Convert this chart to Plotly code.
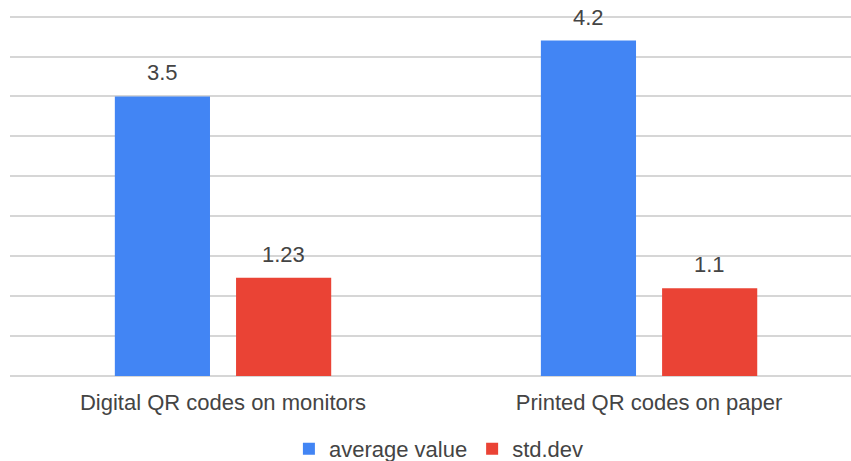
import plotly.graph_objects as go

# Survey results: mean score and spread for each QR code medium
categories = ["Digital QR codes on monitors", "Printed QR codes on paper"]
average_value = [3.5, 4.2]
std_dev = [1.23, 1.1]
value_labels_avg = ["3.5", "4.2"]
value_labels_std = ["1.23", "1.1"]

FONT = "Arial, Liberation Sans, sans-serif"
TEXT_COLOR = "#444444"
FS = 22
BARGAP = 0.431
BARGROUPGAP = 0.215

series = [
    ("average value", average_value, value_labels_avg, "#4285F4"),
    ("std.dev", std_dev, value_labels_std, "#EA4335"),
]

fig = go.Figure()
for name, values, _, color in series:
    fig.add_trace(go.Bar(
        name=name, x=categories, y=values,
        marker=dict(color=color, line=dict(width=0)),
    ))

# value labels sit a little above each bar, centred on the bar within its group
group_width = 1 - BARGAP
slot = group_width / len(series)
annotations = []
for k, (_, values, labels, _) in enumerate(series):
    offset = -group_width / 2 + slot * (k + 0.5)
    for i, (v, lab) in enumerate(zip(values, labels)):
        annotations.append(dict(
            x=i + offset, y=v, xref="x", yref="y", text=lab,
            showarrow=False, xanchor="center", yanchor="bottom", yshift=9,
            font=dict(family=FONT, size=FS, color=TEXT_COLOR),
        ))

fig.update_layout(
    width=851, height=461,
    margin=dict(l=10, r=0, t=15, b=85, autoexpand=False),
    paper_bgcolor="white", plot_bgcolor="white",
    font=dict(family=FONT, size=FS, color=TEXT_COLOR),
    barmode="group", bargap=BARGAP, bargroupgap=BARGROUPGAP,
    showlegend=True,
    legend=dict(
        orientation="h", x=0.51, xanchor="center",
        y=-0.26, yanchor="bottom",
        font=dict(family=FONT, size=FS, color=TEXT_COLOR),
        itemwidth=30, traceorder="normal",
    ),
    annotations=annotations,
)
fig.update_xaxes(
    range=[-0.5, 1.474], showgrid=False, showline=False, ticks="",
    ticklabelstandoff=11, automargin=False,
    tickfont=dict(family=FONT, size=FS, color=TEXT_COLOR),
)
fig.update_yaxes(
    range=[0, 4.52], dtick=0.5, showticklabels=False, showgrid=True,
    gridcolor="#d6d6d6", gridwidth=1.5, zeroline=True,
    zerolinecolor="#d6d6d6", zerolinewidth=1.5, showline=False,
    automargin=False,
)

fig.write_html("out.html")
